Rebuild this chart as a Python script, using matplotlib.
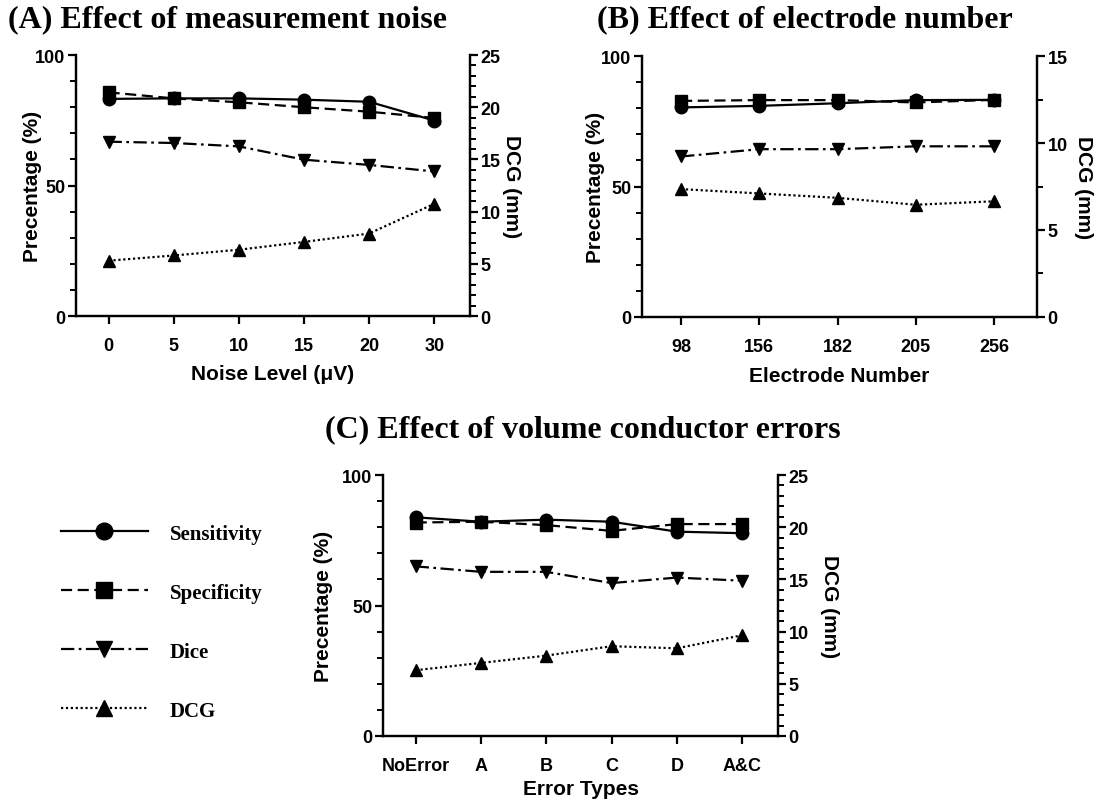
import matplotlib
matplotlib.use("Agg")
import matplotlib.pyplot as plt
from matplotlib.ticker import MultipleLocator
from matplotlib.lines import Line2D

# (A) measurement noise
noise_levels = ["0", "5", "10", "15", "20", "30"]
noise_sens = [83.2, 83.4, 83.4, 82.9, 82.1, 74.9]
noise_spec = [85.7, 83.4, 81.9, 80.0, 78.3, 75.9]
noise_dice = [66.8, 66.3, 65.0, 59.9, 57.9, 55.4]
noise_dcg = [5.3, 5.8, 6.35, 7.1, 7.9, 10.75]

# (B) electrode number
electrodes = ["98", "156", "182", "205", "256"]
elec_sens = [80.3, 80.9, 81.9, 83.1, 83.2]
elec_spec = [82.8, 83.1, 83.1, 82.2, 83.2]
elec_dice = [61.5, 64.3, 64.3, 65.4, 65.4]
elec_dcg = [7.35, 7.1, 6.85, 6.45, 6.65]

# (C) volume conductor errors
error_types = ["NoError", "A", "B", "C", "D", "A&C"]
err_sens = [83.8, 82.1, 82.9, 82.1, 78.3, 77.7]
err_spec = [81.8, 82.1, 80.8, 78.6, 81.2, 81.2]
err_dice = [65.0, 62.9, 62.9, 58.6, 60.7, 59.5]
err_dcg = [6.3, 7.0, 7.7, 8.6, 8.4, 9.65]

series_names = ["Sensitivity", "Specificity", "Dice", "DCG"]

SANS = "Liberation Sans"
SERIF = "Liberation Serif"
LW = 1.6
MS = 9

styles = {
    "Sensitivity": dict(ls="-", marker="o"),
    "Specificity": dict(ls=(0, (5, 2.5)), marker="s"),
    "Dice": dict(ls=(0, (6, 2, 1.2, 2)), marker="v"),
    "DCG": dict(ls=(0, (1, 1.2)), marker="^"),
}


def panel(rect, labels, sens, spec, dice, dcg, dcg_max, dcg_minor, xlabel,
          pads):
    xpad, lpad, rpad = pads
    ax = fig.add_axes(rect)
    ax2 = ax.twinx()
    x = list(range(len(labels)))
    for name, vals in zip(series_names[:3], [sens, spec, dice]):
        ax.plot(x, vals, color="black", lw=LW, ms=MS, clip_on=False,
                **styles[name])
    ax2.plot(x, dcg, color="black", lw=LW, ms=MS, clip_on=False,
             **styles["DCG"])

    ax.set_xlim(-0.5, len(labels) - 0.45)
    ax.set_ylim(0, 100)
    ax2.set_ylim(0, dcg_max)
    ax.set_xticks(x)
    ax.set_xticklabels(labels)
    ax.yaxis.set_major_locator(MultipleLocator(50))
    ax.yaxis.set_minor_locator(MultipleLocator(10))
    ax2.yaxis.set_major_locator(MultipleLocator(5))
    ax2.yaxis.set_minor_locator(MultipleLocator(dcg_minor))

    for a in (ax, ax2):
        a.spines["top"].set_visible(False)
        for s in ("left", "right", "bottom"):
            a.spines[s].set_linewidth(1.6)
        a.tick_params(which="major", direction="out", length=6, width=1.6,
                      labelsize=13, pad=1.5)
        a.tick_params(which="minor", direction="out", length=4.5, width=1.4)
        for t in a.get_xticklabels() + a.get_yticklabels():
            t.set_fontfamily(SANS)
            t.set_fontweight("bold")
    ax.tick_params(axis="x", pad=9)

    ax.set_xlabel(xlabel, fontsize=15, fontweight="bold", family=SANS,
                  labelpad=xpad)
    ax.set_ylabel("Precentage (%)", fontsize=15, fontweight="bold", family=SANS,
                  labelpad=lpad)
    ax2.set_ylabel("DCG (mm)", fontsize=15, fontweight="bold", family=SANS,
                   rotation=-90, labelpad=rpad)
    return ax, ax2


fig = plt.figure(figsize=(11, 8.03), dpi=100)

panel([0.0691, 0.6052, 0.3582, 0.325], noise_levels, noise_sens, noise_spec,
      noise_dice, noise_dcg, 25, 1, "Noise Level (\u03bcV)", (7.5, -5, 15))
panel([0.5836, 0.6040, 0.3591, 0.325], electrodes, elec_sens, elec_spec,
      elec_dice, elec_dcg, 15, 2.5, "Electrode Number", (8, -3, 18))
panel([0.3482, 0.0822, 0.3591, 0.325], error_types, err_sens, err_spec,
      err_dice, err_dcg, 25, 1, "Error Types", (4, 7, 22))

title_kw = dict(fontsize=23, fontweight="bold", family=SERIF, va="center")
fig.text(0.007, 0.975, "(A) Effect of measurement noise", ha="left", **title_kw)
fig.text(0.5427, 0.976, "(B) Effect of electrode number", ha="left", **title_kw)
fig.text(0.2955, 0.4645, "(C) Effect of volume conductor errors", ha="left",
         **title_kw)

# legend with long sample lines and a centred marker
handles = [Line2D([], [], color="black", lw=LW, ms=MS + 3, **styles[n])
           for n in series_names]
fig.legend(handles, series_names, loc="upper left",
           bbox_to_anchor=(0.038, 0.370), frameon=False, numpoints=1,
           handlelength=4.2, handletextpad=1.05, labelspacing=1.87,
           prop=dict(family=SERIF, weight="bold", size=15))

fig.savefig("out.png", dpi=100)
